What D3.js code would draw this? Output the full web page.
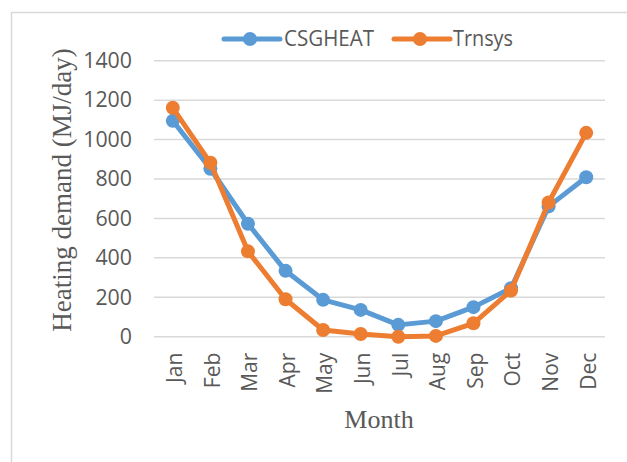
<!DOCTYPE html>
<html>
<head>
<meta charset="utf-8">
<script src="https://cdn.jsdelivr.net/npm/d3@7"></script>
<style>
  body { margin: 0; background: #fff; }
  svg { display: block; }
</style>
</head>
<body>
<svg></svg>
<script>
let months = ["Jan", "Feb", "Mar", "Apr", "May", "Jun", "Jul", "Aug", "Sep", "Oct", "Nov", "Dec"]
let csgheat = [1095, 852, 573, 334, 187, 136, 60, 79, 150, 246, 661, 809]
let trnsys = [1161, 882, 433, 190, 34, 14, 0, 4, 68, 234, 681, 1034]
let yTicks = [0, 200, 400, 600, 800, 1000, 1200, 1400]

let series = [
  {name: "CSGHEAT", values: csgheat, color: "#5B9BD5"},
  {name: "Trnsys", values: trnsys, color: "#ED7D31"}
]

let width = 627
let height = 462
let plotLeft = 154, plotRight = 605, plotTop = 60.7, plotBottom = 336.7

let svg = d3.select("svg").attr("width", width).attr("height", height)

// outer chart border (only top and left visible)
svg.append("path")
   .attr("d", "M11.5," + height + "V12.5H" + width)
   .attr("fill", "none")
   .attr("stroke", "#d9d9d9")
   .attr("stroke-width", 1.5)

let xScale = d3.scaleBand().domain(months).range([plotLeft, plotRight])
let yScale = d3.scaleLinear().domain([0, 1400]).range([plotBottom, plotTop])

// gridlines
svg.append("g")
   .selectAll("line")
   .data(yTicks)
   .enter()
   .append("line")
   .attr("x1", plotLeft)
   .attr("x2", plotRight)
   .attr("y1", d => yScale(d))
   .attr("y2", d => yScale(d))
   .attr("stroke", "#d9d9d9")
   .attr("stroke-width", 1.5)

// y axis labels
let yAxis = d3.axisLeft(yScale).tickValues(yTicks).tickFormat(d3.format("d")).tickSize(0).tickPadding(22)
let gy = svg.append("g").attr("transform", "translate(" + plotLeft + ",0)").call(yAxis)
gy.select(".domain").remove()
gy.selectAll("text")
  .attr("font-family", "'Open Sans', sans-serif")
  .attr("font-size", 21)
  .attr("fill", "#595959")
  .attr("textLength", d => String(d).length * 12.2)
  .attr("lengthAdjust", "spacingAndGlyphs")

// x axis labels, rotated
let xAxis = d3.axisBottom(xScale).tickSize(0).tickPadding(0)
let gx = svg.append("g").attr("transform", "translate(0," + plotBottom + ")").call(xAxis)
gx.select(".domain").remove()
gx.selectAll("text")
  .attr("font-family", "'Open Sans', sans-serif")
  .attr("font-size", 21)
  .attr("fill", "#595959")
  .attr("text-anchor", "end")
  .attr("transform", "translate(2,16) rotate(-90)")
  .attr("x", 0)
  .attr("y", 0)
  .attr("dy", "0.35em")

// lines
let line = d3.line()
  .x((d, i) => xScale(months[i]) + xScale.bandwidth() / 2)
  .y(d => yScale(d))

series.forEach(s => {
  let g = svg.append("g")
  g.append("path")
   .attr("d", line(s.values))
   .attr("fill", "none")
   .attr("stroke", s.color)
   .attr("stroke-width", 5)
   .attr("stroke-linejoin", "round")
  g.selectAll("circle")
   .data(s.values)
   .enter()
   .append("circle")
   .attr("cx", (d, i) => xScale(months[i]) + xScale.bandwidth() / 2)
   .attr("cy", d => yScale(d))
   .attr("r", 7)
   .attr("fill", s.color)
})

// legend
let legendPos = [[224, 284], [394, 453]]
series.forEach((s, i) => {
  let lg = svg.append("g")
  let x0 = legendPos[i][0]
  lg.append("line")
    .attr("x1", x0).attr("x2", x0 + 56)
    .attr("y1", 39).attr("y2", 39)
    .attr("stroke", s.color)
    .attr("stroke-width", 5)
    .attr("stroke-linecap", "round")
  lg.append("circle")
    .attr("cx", x0 + 26).attr("cy", 39).attr("r", 7)
    .attr("fill", s.color)
  lg.append("text")
    .attr("x", legendPos[i][1])
    .attr("y", 39)
    .attr("dy", "0.35em")
    .attr("font-family", "'Open Sans', sans-serif")
    .attr("font-size", 21)
    .attr("fill", "#595959")
    .attr("textLength", i == 0 ? 90 : 60)
    .attr("lengthAdjust", "spacingAndGlyphs")
    .text(s.name)
})

// axis titles
svg.append("text")
   .attr("transform", "translate(71,190) rotate(-90)")
   .attr("text-anchor", "middle")
   .attr("font-family", "'Liberation Serif', 'Times New Roman', serif")
   .attr("font-size", 27)
   .attr("fill", "#595959")
   .text("Heating demand (MJ/day)")

svg.append("text")
   .attr("x", 379)
   .attr("y", 428)
   .attr("text-anchor", "middle")
   .attr("font-family", "'Liberation Serif', 'Times New Roman', serif")
   .attr("font-size", 26)
   .attr("fill", "#595959")
   .text("Month")
</script>
</body>
</html>
